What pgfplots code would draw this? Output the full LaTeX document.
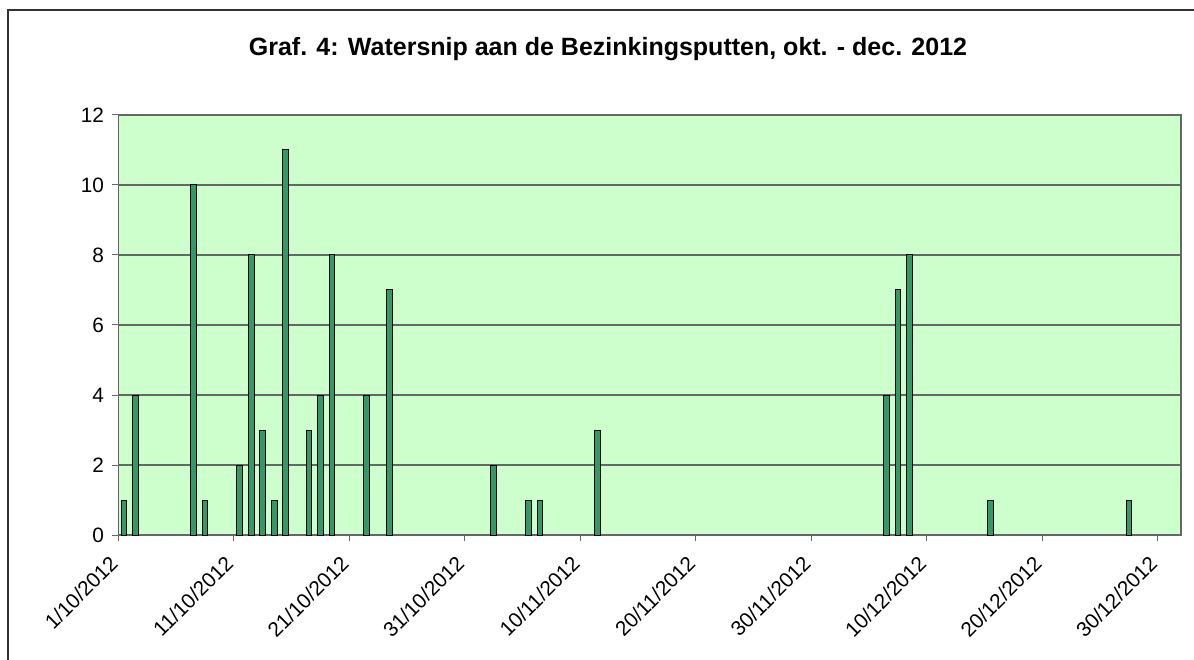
\documentclass[border=0pt]{standalone}
\usepackage{fontspec}
\setmainfont{Liberation Sans}
\usepackage{pgfplots}
\pgfplotsset{compat=1.18}
\definecolor{bgreen}{HTML}{CCFFCC}
\definecolor{barc}{HTML}{339966}
\definecolor{gridc}{HTML}{666666}
\begin{document}
\begin{tikzpicture}
\useasboundingbox (-59.15pt,-62pt) rectangle (537.85pt,267.5pt);
\draw[line width=0.7pt, color=black!80] (-55.15pt,-70pt) -- (-55.15pt,262.5pt) -- (545pt,262.5pt);
\begin{axis}[
  at={(0,0)}, anchor=origin,
  scale only axis,
  width=531.35pt, height=210pt,
  xmin=0, xmax=92, ymin=0, ymax=12,
  axis background/.style={fill=bgreen},
  axis line style={color=gridc, line width=0.6pt},
  ytick={0,2,...,12},
  xtick={0,10,...,90},
  xticklabels={1/10/2012,11/10/2012,21/10/2012,31/10/2012,10/11/2012,20/11/2012,30/11/2012,10/12/2012,20/12/2012,30/12/2012},
  ymajorgrids,
  grid style={color=gridc, line width=0.6pt},
  tick style={color=gridc, line width=0.5pt},
  tick align=outside,
  major tick length=3pt,
  xtick pos=bottom, ytick pos=left,
  /pgf/number format/assume math mode=true,
  tick label style={font=\fontsize{10.4pt}{12.5pt}\selectfont},
  xticklabel style={xshift=-5pt, yshift=-5pt, rotate=45, anchor=north east, inner sep=1pt},
  yticklabel style={inner sep=2pt, xshift=-2pt},
  title={\bfseries Graf. 4: Watersnip aan de Bezinkingsputten, okt. - dec. 2012},
  title style={font=\fontsize{12.5pt}{15pt}\selectfont, at={(0.4608,1)}, anchor=base, yshift=23.5pt},
  ybar, bar width=0.5,
  clip=false,
]
\addplot[fill=barc, draw=black, line width=0.5pt] coordinates {
(0.5,1) (1.5,4) (6.5,10) (7.5,1) (10.5,2) (11.5,8) (12.5,3) (13.5,1) (14.5,11)
(16.5,3) (17.5,4) (18.5,8) (21.5,4) (23.5,7) (32.5,2) (35.5,1) (36.5,1) (41.5,3)
(66.5,4) (67.5,7) (68.5,8) (75.5,1) (87.5,1)
};
\end{axis}
\end{tikzpicture}
\end{document}
